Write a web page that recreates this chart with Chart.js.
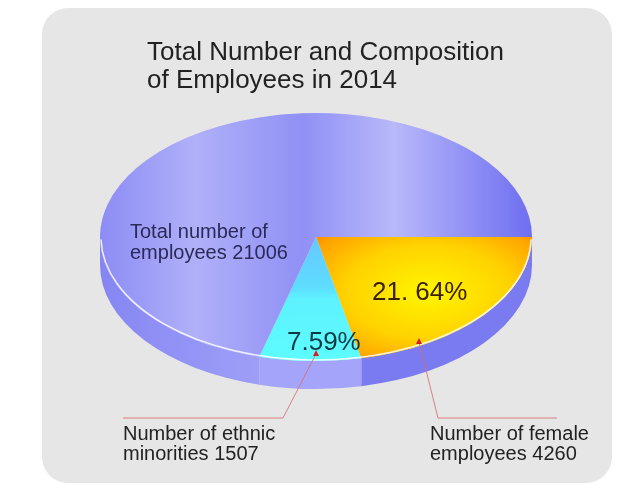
<!DOCTYPE html>
<html>
<head>
<meta charset="utf-8">
<script src="https://cdn.jsdelivr.net/npm/chart.js@4/dist/chart.umd.min.js"></script>
<style>
  html, body { margin: 0; padding: 0; background: #ffffff; }
  canvas { display: block; }
</style>
</head>
<body>
<canvas id="employees" width="618" height="490"></canvas>
<script>
// Employees in 2014, share of the total (percent)
var categories = ['Number of female employees', 'Number of ethnic minorities', 'Other employees']
var shares = [21.64, 7.59, 70.77]
var shareLabels = ['21. 64%', '7.59%']

var titleLines = ['Total Number and Composition', 'of Employees in 2014']
var totalLines = ['Total number of', 'employees 21006']
var femaleLines = ['Number of female', 'employees 4260']
var minorityLines = ['Number of ethnic', 'minorities 1507']

var FONT = '"Liberation Sans", Arial, sans-serif'
var TILT = 0.574   // vertical squash of the pie top
var DEPTH = 28     // thickness of the pie side

// unscaled y for a screen y, so gradients land where wanted after the squash
function unsquash(cy, y) {
    return cy + (y - cy) / TILT
}

var faceColor = function (context) {
    var area = context.chart.chartArea
    if (!area) return '#9a9af6'
    var cx = (area.left + area.right) / 2
    var cy = (area.top + area.bottom) / 2
    var r = Math.min(area.right - area.left, area.bottom - area.top) / 2
    var ctx = context.chart.ctx
    var g
    if (context.dataIndex === 0) {
        g = ctx.createRadialGradient(428, unsquash(cy, 292), 0, 428, unsquash(cy, 292), 165)
        g.addColorStop(0, '#fff600')
        g.addColorStop(0.5, '#ffd200')
        g.addColorStop(0.8, '#ffa400')
        g.addColorStop(1, '#ff7000')
    } else if (context.dataIndex === 1) {
        g = ctx.createLinearGradient(0, cy, 0, cy + r)
        g.addColorStop(0, '#66c8ff')
        g.addColorStop(0.4, '#5edcff')
        g.addColorStop(0.5, '#5ef2ff')
        g.addColorStop(1, '#5cfcff')
    } else {
        g = ctx.createLinearGradient(cx - r, 0, cx + r, 0)
        g.addColorStop(0, '#8c8cf5')
        g.addColorStop(0.22, '#b0b0f9')
        g.addColorStop(0.47, '#9090f6')
        g.addColorStop(0.68, '#b8b8fa')
        g.addColorStop(1, '#6e6ef1')
    }
    return g
}

function drawLines(ctx, lines, x, y, gap) {
    lines.forEach(function (t, i) {
        ctx.fillText(t, x, y + i * gap)
    })
}

var pie3d = {
    id: 'pie3d',
    beforeDraw: function (chart) {
        // rounded grey panel behind everything
        var ctx = chart.ctx
        ctx.save()
        ctx.fillStyle = '#e6e6e6'
        ctx.beginPath()
        ctx.roundRect(42, 8, 570, 475, 26)
        ctx.fill()
        ctx.restore()
    },
    beforeDatasetsDraw: function (chart) {
        var ctx = chart.ctx
        var arcs = chart.getDatasetMeta(0).data
        var cx = arcs[0].x, cy = arcs[0].y, r = arcs[0].outerRadius
        var ry = r * TILT

        // side wall, only the front half shows
        var sideBlue = ctx.createLinearGradient(cx - r, 0, cx + r, 0)
        sideBlue.addColorStop(0, '#8686f3')
        sideBlue.addColorStop(0.45, '#a4a4fa')
        sideBlue.addColorStop(1, '#8080f2')
        var sideColors = ['#7a7af1', '#a4a4fa', sideBlue]

        ctx.save()
        arcs.forEach(function (arc, i) {
            var a0 = Math.max(arc.startAngle, 0)
            var a1 = Math.min(arc.endAngle, Math.PI)
            if (a1 <= a0) return
            ctx.beginPath()
            ctx.ellipse(cx, cy + DEPTH, r, ry, 0, a0, a1)
            ctx.ellipse(cx, cy, r, ry, 0, a1, a0, true)
            ctx.closePath()
            ctx.fillStyle = sideColors[i]
            ctx.fill()
        })
        ctx.restore()

        // squash the top face into an ellipse
        ctx.save()
        ctx.translate(cx, cy)
        ctx.scale(1, TILT)
        ctx.translate(-cx, -cy)
    },
    afterDatasetsDraw: function (chart) {
        var ctx = chart.ctx
        ctx.restore()

        var arc = chart.getDatasetMeta(0).data[0]
        var cx = arc.x, cy = arc.y, r = arc.outerRadius

        // light rim along the front edge
        ctx.save()
        ctx.strokeStyle = 'rgba(255,255,255,0.85)'
        ctx.lineWidth = 1.5
        ctx.beginPath()
        ctx.ellipse(cx, cy, r - 1, r * TILT - 1, 0, 0.02, Math.PI - 0.02)
        ctx.stroke()
        ctx.restore()

        // leader lines
        ctx.save()
        ctx.strokeStyle = 'rgba(214,110,110,0.85)'
        ctx.lineWidth = 1
        ctx.beginPath()
        ctx.moveTo(316, 354); ctx.lineTo(283, 418); ctx.lineTo(123, 418)
        ctx.moveTo(419, 342); ctx.lineTo(438, 418); ctx.lineTo(557, 418)
        ctx.stroke()
        ctx.fillStyle = '#d42020'
        ;[[316, 354], [419, 342]].forEach(function (p) {
            ctx.beginPath()
            ctx.moveTo(p[0], p[1] - 4)
            ctx.lineTo(p[0] + 3, p[1] + 2)
            ctx.lineTo(p[0] - 3, p[1] + 2)
            ctx.closePath()
            ctx.fill()
        })
        ctx.restore()

        // texts
        ctx.save()
        ctx.textAlign = 'left'
        ctx.textBaseline = 'alphabetic'

        ctx.fillStyle = '#222222'
        ctx.font = '26px ' + FONT
        drawLines(ctx, titleLines, 147, 60, 28)

        ctx.fillStyle = '#2a2a58'
        ctx.font = '20px ' + FONT
        drawLines(ctx, totalLines, 130, 238, 21)

        ctx.fillStyle = '#222222'
        drawLines(ctx, minorityLines, 123, 440, 20)
        drawLines(ctx, femaleLines, 430, 440, 20)

        ctx.font = '26px ' + FONT
        ctx.fillStyle = '#3a2200'
        ctx.fillText(shareLabels[0], 372, 300)
        ctx.fillStyle = '#0a3a42'
        ctx.fillText(shareLabels[1], 287, 350)
        ctx.restore()
    }
}

new Chart(document.getElementById('employees').getContext('2d'), {
    type: 'pie',
    plugins: [pie3d],
    data: {
        labels: categories,
        datasets: [{
            data: shares,
            backgroundColor: faceColor,
            borderWidth: 0,
            hoverOffset: 0,
            offset: 0
        }]
    },
    options: {
        responsive: false,
        animation: false,
        events: [],
        rotation: 90,
        layout: {
            padding: { left: 100, right: 86, top: 21, bottom: 37 }
        },
        plugins: {
            legend: { display: false },
            tooltip: { enabled: false },
            title: { display: false }
        }
    }
})
</script>
</body>
</html>
